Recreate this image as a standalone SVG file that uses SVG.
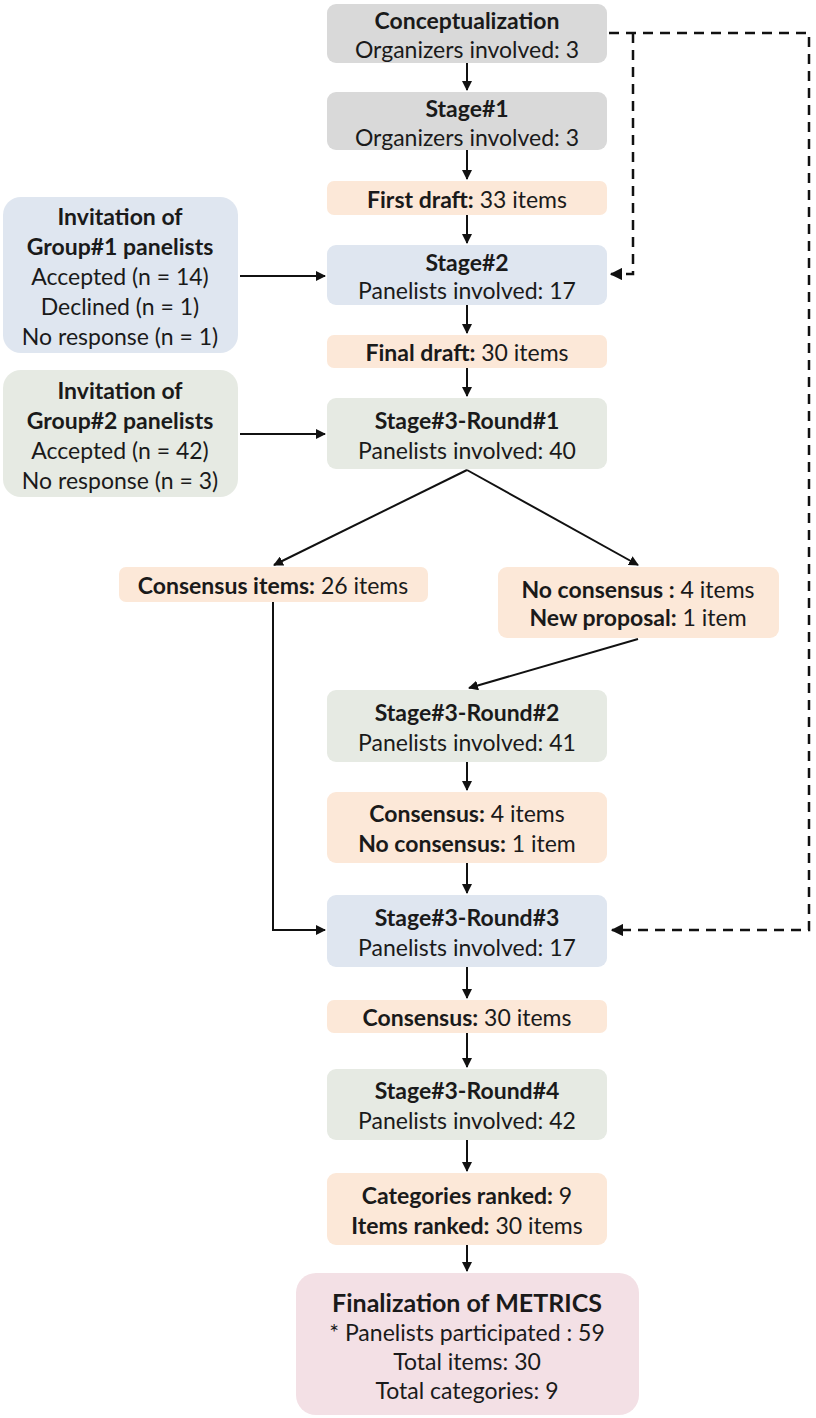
<svg xmlns="http://www.w3.org/2000/svg" width="816" height="1418" viewBox="0 0 816 1418">
<style>
text{font-family:Lato,"Liberation Sans",sans-serif;font-size:23px;fill:#1a1a1a;text-anchor:middle;dominant-baseline:central}
.b{font-weight:bold}
.gray{fill:#d9d9d9}
.peach{fill:#fce8d8}
.blue{fill:#dfe6f0}
.green{fill:#e6eae3}
.pink{fill:#f3e0e5}
.ln{stroke:#111;stroke-width:2;fill:none}
.dash{stroke:#111;stroke-width:2.5;fill:none;stroke-dasharray:10 7}
</style>
<defs>
<marker id="ah" viewBox="0 0 10 10" refX="9" refY="5" markerWidth="5" markerHeight="5" orient="auto"><path d="M0,0 L10,5 L0,10 z" fill="#111"/></marker>
</defs>
<rect width="816" height="1418" fill="#fff"/>
<g id="n-concept"><rect class="gray" x="327" y="4" width="280" height="59" rx="9"/><text class="b" x="467" y="20">Conceptualization</text><text x="467" y="49">Organizers involved: 3</text></g>
<g id="n-stage1"><rect class="gray" x="327" y="92" width="280" height="58" rx="9"/><text class="b" x="467" y="108">Stage#1</text><text x="467" y="137">Organizers involved: 3</text></g>
<g id="n-first"><rect class="peach" x="327" y="181" width="280" height="34" rx="7"/><text x="467" y="199"><tspan class="b">First draft:</tspan> 33 items</text></g>
<g id="n-stage2"><rect class="blue" x="327" y="245" width="280" height="60" rx="9"/><text class="b" x="467" y="262">Stage#2</text><text x="467" y="290">Panelists involved: 17</text></g>
<g id="n-group1"><rect class="blue" x="3" y="197" width="235" height="156" rx="18"/><text class="b" x="120" y="216">Invitation of</text><text class="b" x="120" y="246">Group#1 panelists</text><text x="120" y="276">Accepted (n = 14)</text><text x="120" y="306">Declined (n = 1)</text><text x="120" y="336">No response (n = 1)</text></g>
<g id="n-final"><rect class="peach" x="327" y="335" width="280" height="33" rx="7"/><text x="467" y="352"><tspan class="b">Final draft:</tspan> 30 items</text></g>
<g id="n-group2"><rect class="green" x="3" y="370" width="235" height="127" rx="18"/><text class="b" x="120" y="390">Invitation of</text><text class="b" x="120" y="420">Group#2 panelists</text><text x="120" y="450">Accepted (n = 42)</text><text x="120" y="480">No response (n = 3)</text></g>
<g id="n-r1"><rect class="green" x="327" y="398" width="280" height="71" rx="9"/><text class="b" x="467" y="420">Stage#3-Round#1</text><text x="467" y="450">Panelists involved: 40</text></g>
<g id="n-cons26"><rect class="peach" x="119" y="567" width="309" height="35" rx="7"/><text x="273" y="585"><tspan class="b">Consensus items:</tspan> 26 items</text></g>
<g id="n-nocons"><rect class="peach" x="498" y="567" width="281" height="71" rx="9"/><text x="638" y="589"><tspan class="b">No consensus :</tspan> 4 items</text><text x="638" y="617"><tspan class="b">New proposal:</tspan> 1 item</text></g>
<g id="n-r2"><rect class="green" x="327" y="690" width="280" height="72" rx="9"/><text class="b" x="467" y="712">Stage#3-Round#2</text><text x="467" y="742">Panelists involved: 41</text></g>
<g id="n-cons4"><rect class="peach" x="327" y="792" width="280" height="71" rx="9"/><text x="467" y="813"><tspan class="b">Consensus:</tspan> 4 items</text><text x="467" y="843"><tspan class="b">No consensus:</tspan> 1 item</text></g>
<g id="n-r3"><rect class="blue" x="327" y="895" width="280" height="72" rx="9"/><text class="b" x="467" y="917">Stage#3-Round#3</text><text x="467" y="947">Panelists involved: 17</text></g>
<g id="n-cons30"><rect class="peach" x="327" y="1000" width="280" height="33" rx="7"/><text x="467" y="1017"><tspan class="b">Consensus:</tspan> 30 items</text></g>
<g id="n-r4"><rect class="green" x="327" y="1069" width="280" height="71" rx="9"/><text class="b" x="467" y="1090">Stage#3-Round#4</text><text x="467" y="1120">Panelists involved: 42</text></g>
<g id="n-ranked"><rect class="peach" x="327" y="1173" width="280" height="72" rx="9"/><text x="467" y="1195"><tspan class="b">Categories ranked:</tspan> 9</text><text x="467" y="1225"><tspan class="b">Items ranked:</tspan> 30 items</text></g>
<g id="n-metrics"><rect class="pink" x="296" y="1273" width="343" height="142" rx="20"/><text class="b" x="467" y="1302" style="font-size:25px">Finalization of METRICS</text><text x="467" y="1332">* Panelists participated : 59</text><text x="467" y="1361">Total items: 30</text><text x="467" y="1390">Total categories: 9</text></g>
<g id="connectors">
<path class="ln" d="M467,63 V90" marker-end="url(#ah)"/>
<path class="ln" d="M467,150 V179" marker-end="url(#ah)"/>
<path class="ln" d="M467,215 V243" marker-end="url(#ah)"/>
<path class="ln" d="M467,305 V333" marker-end="url(#ah)"/>
<path class="ln" d="M467,368 V396" marker-end="url(#ah)"/>
<path class="ln" d="M240,276 H325" marker-end="url(#ah)"/>
<path class="ln" d="M240,434 H325" marker-end="url(#ah)"/>
<path class="ln" d="M467,470 L274,565" marker-end="url(#ah)"/>
<path class="ln" d="M467,470 L638,565" marker-end="url(#ah)"/>
<path class="ln" d="M638,639 L469,688" marker-end="url(#ah)"/>
<path class="ln" d="M273,602 V930 H325" marker-end="url(#ah)"/>
<path class="ln" d="M467,762 V790" marker-end="url(#ah)"/>
<path class="ln" d="M467,863 V893" marker-end="url(#ah)"/>
<path class="ln" d="M467,967 V998" marker-end="url(#ah)"/>
<path class="ln" d="M467,1033 V1067" marker-end="url(#ah)"/>
<path class="ln" d="M467,1140 V1171" marker-end="url(#ah)"/>
<path class="ln" d="M467,1245 V1271" marker-end="url(#ah)"/>
<path class="dash" d="M609,33 H809 V930 H612" marker-end="url(#ah)"/>
<path class="dash" d="M633,33 V274 H611" marker-end="url(#ah)"/>
</g>
</svg>
